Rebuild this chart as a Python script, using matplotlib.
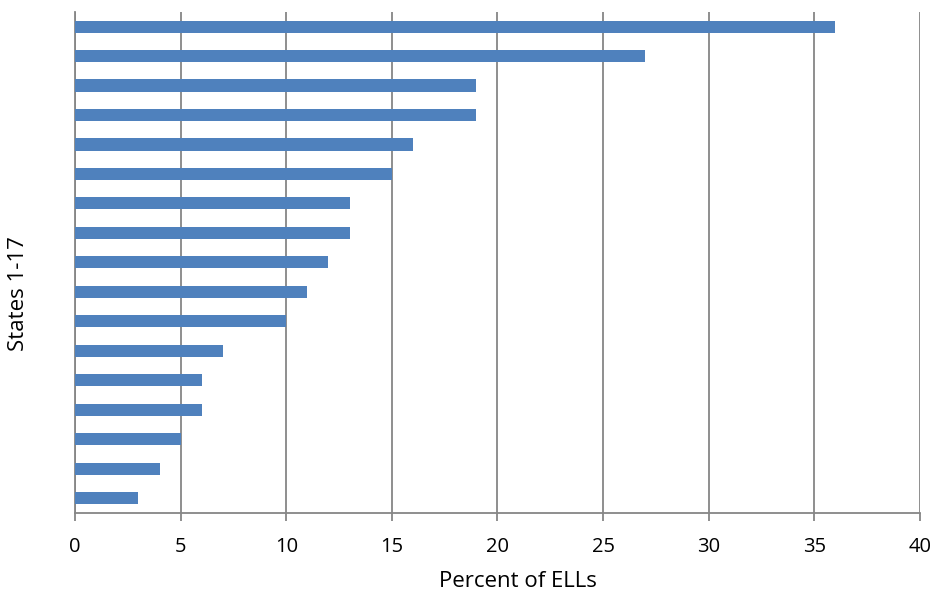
import numpy as np
import matplotlib.pyplot as plt

# percent of ELLs per state, top to bottom
values = [36, 27, 19, 19, 16, 15, 13, 13, 12, 11, 10, 7, 6, 6, 5, 4, 3]
xticks = [0, 5, 10, 15, 20, 25, 30, 35, 40]

plt.rcParams['font.family'] = ['Open Sans', 'DejaVu Sans']

fig = plt.figure(figsize=(9.32, 5.91), dpi=100)
ax = fig.add_axes([0.0805, 0.132, 0.9065, 0.848])

n = len(values)
pos = np.arange(n)[::-1]
ax.barh(pos, values, height=0.41, color='#4F81BD', zorder=3)

ax.set_xlim(0, 40)
ax.set_ylim(-0.5, n - 0.5)
ax.set_xticks(xticks)
ax.set_yticks([])
ax.xaxis.grid(True, color='#868686', linewidth=1.3, zorder=0)

for s in ['top', 'right']:
    ax.spines[s].set_visible(False)
ax.spines['left'].set_color('#868686')
ax.spines['left'].set_linewidth(1.3)
ax.spines['bottom'].set_color('#868686')
ax.spines['bottom'].set_linewidth(1.3)
ax.tick_params(axis='x', length=6, width=1.3, color='#868686', labelsize=14.5, pad=11)

ax.set_xlabel('Percent of ELLs', fontsize=16)
ax.set_ylabel('States 1-17', fontsize=16)
# place labels in pixel positions matching the reference
ax.xaxis.set_label_coords((518 - 75) / 845, -(581 - 513) / 501, transform=ax.transAxes)
ax.yaxis.set_label_coords(-(75 - 18) / 845, (513 - 294) / 501, transform=ax.transAxes)
ax.xaxis.label.set_va('center')
ax.yaxis.label.set_va('center')

fig.savefig('out.png', dpi=100)
